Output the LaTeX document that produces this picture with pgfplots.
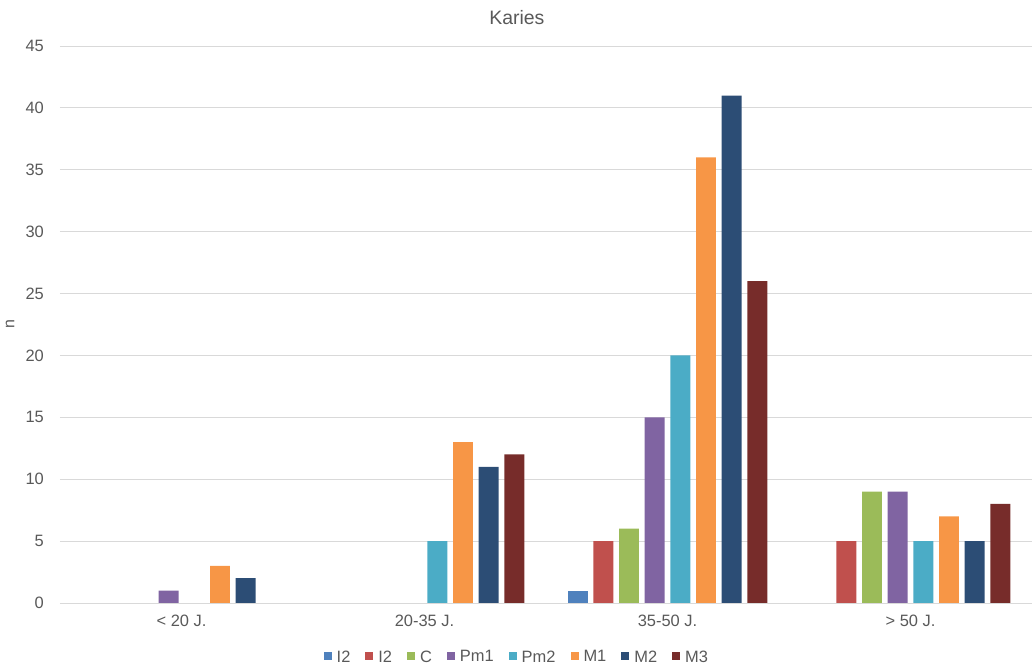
\documentclass[border=0pt]{standalone}
\usepackage{pgfplots}
\pgfplotsset{compat=1.18}
\usepackage{fontspec}
\setmainfont{Liberation Sans}
\definecolor{cI}{HTML}{4F81BD}
\definecolor{cII}{HTML}{C0504D}
\definecolor{cC}{HTML}{9BBB59}
\definecolor{cPa}{HTML}{8064A2}
\definecolor{cPb}{HTML}{4BACC6}
\definecolor{cMa}{HTML}{F79646}
\definecolor{cMb}{HTML}{2C4D75}
\definecolor{cMc}{HTML}{772C2A}
\definecolor{gridc}{HTML}{D9D9D9}
\definecolor{txt}{HTML}{595959}
\begin{document}
\begin{tikzpicture}
\begin{axis}[
  name=ax,
  scale only axis,
  width=972bp, height=557bp,
  xmin=-0.5, xmax=3.5, ymin=0, ymax=45,
  ybar,
  bar width=0.082,
  xtick={0,1,2,3},
  xticklabels={{< 20 J.},{20-35 J.},{35-50 J.},{> 50 J.}},
  ytick={0,5,...,45},
  major tick length=0pt,
  axis x line=bottom, axis y line=left,
  x axis line style={-, draw=gridc, line width=0.8pt},
  y axis line style={draw=none},
  ymajorgrids, grid style={gridc, line width=0.8pt},
  /pgf/number format/assume math mode=true,
  tick label style={font=\fontsize{16.5}{19}\selectfont, text=txt, inner sep=0pt},
  yticklabel style={anchor=east, xshift=-16bp},
  xticklabel style={anchor=north, yshift=-12bp},
  title={Karies},
  title style={at={(axis description cs:0.470,1.041)}, anchor=center, font=\fontsize{19.5}{22}\selectfont, text=txt},
  ylabel={n},
  ylabel style={at={(axis description cs:-0.0514,0.5)}, anchor=center, font=\fontsize{16}{18}\selectfont, text=txt},
  legend columns=8,
  legend style={at={(axis description cs:0.470,-0.097)}, anchor=center, draw=none, fill=none,
    font=\fontsize{16.5}{19}\selectfont, text=txt,
    /tikz/every odd column/.append style={column sep=3bp},
    /tikz/every even column/.append style={column sep=13bp}},
  legend image code/.code={\fill[#1,draw=none] (0bp,-2.5bp) rectangle (8bp,5.5bp);},
]
\addplot[fill=cI, draw=none, bar shift=-0.370] coordinates {(2,1)};
\addplot[fill=cII, draw=none, bar shift=-0.264] coordinates {(2,5) (3,5)};
\addplot[fill=cC, draw=none, bar shift=-0.1585] coordinates {(2,6) (3,9)};
\addplot[fill=cPa, draw=none, bar shift=-0.0528] coordinates {(0,1) (2,15) (3,9)};
\addplot[fill=cPb, draw=none, bar shift=0.0528] coordinates {(1,5) (2,20) (3,5)};
\addplot[fill=cMa, draw=none, bar shift=0.1585] coordinates {(0,3) (1,13) (2,36) (3,7)};
\addplot[fill=cMb, draw=none, bar shift=0.264] coordinates {(0,2) (1,11) (2,41) (3,5)};
\addplot[fill=cMc, draw=none, bar shift=0.370] coordinates {(1,12) (2,26) (3,8)};
\legend{I2,I2,C,Pm1,Pm2,M1,M2,M3}
\end{axis}
\pgfresetboundingbox
\path ([shift={(-60bp,-64bp)}]ax.south west) rectangle ([shift={(2bp,46bp)}]ax.north east);
\end{tikzpicture}
\end{document}
